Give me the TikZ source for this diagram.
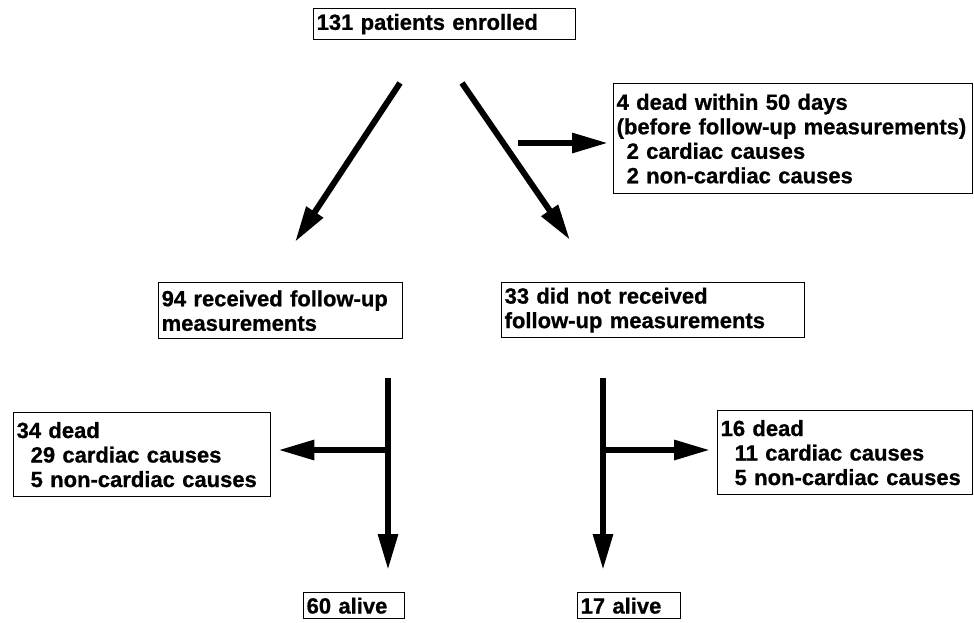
\documentclass[tikz,border=0pt]{standalone}
\usepackage{fontspec}
\setmainfont{Liberation Sans}[FakeBold=0.8]
\usepackage{tikz}
\usetikzlibrary{arrows.meta}

\begin{document}
\begin{tikzpicture}[x=1pt, y=-1pt,
    flowbox/.style={draw, line width=1.3pt, anchor=north west, align=left, inner xsep=3pt, inner ysep=0pt, font=\fontsize{22}{24.5}\selectfont\bfseries},
    bigarrow/.style={line width=6pt, -{Triangle[length=36pt, width=19pt]}}]
                    \useasboundingbox (0,0) rectangle (974,622);

                    \node[flowbox, text width=256pt, minimum height=31pt] (enrolled) at (313,8) {131 patients enrolled};
                    \node[flowbox, text width=353pt, minimum height=110pt] (early) at (613,83) {
                        4 dead within 50 days\\
                        (before follow-up measurements)\\
                        \hspace*{10pt}2 cardiac causes\\
                        \hspace*{10pt}2 non-cardiac causes
                    };
                    \node[flowbox, text width=238pt, minimum height=56pt] (received) at (158,282) {
                        94 received follow-up\\
                        measurements
                    };
                    \node[flowbox, text width=297pt, minimum height=55pt] (notreceived) at (501,282) {
                        33 did not received\\
                        follow-up measurements
                    };
                    \node[flowbox, text width=251pt, minimum height=84pt] (deadL) at (13,412) {
                        34 dead\\
                        \hspace*{14pt}29 cardiac causes\\
                        \hspace*{14pt}5 non-cardiac causes
                    };
                    \node[flowbox, text width=249pt, minimum height=84pt] (deadR) at (717,410) {
                        16 dead\\
                        \hspace*{14pt}11 cardiac causes\\
                        \hspace*{14pt}5 non-cardiac causes
                    };
                    \node[flowbox, text width=95pt, minimum height=26pt] (aliveL) at (303,592) {60 alive};
                    \node[flowbox, text width=97pt, minimum height=26pt] (aliveR) at (577,592) {17 alive};

                    \coordinate (forkL) at (400,83);
                    \coordinate (tipL) at (295,242);
                    \coordinate (forkR) at (462,83);
                    \coordinate (tipR) at (570,240);
                    \coordinate (side) at (518,143);
                    \coordinate (stemL) at (388,378);
                    \coordinate (branchL) at (388,450);
                    \coordinate (stemR) at (603,378);
                    \coordinate (branchR) at (603,450);

                    \draw[bigarrow] (forkL) -- (tipL);
                    \draw[bigarrow] (forkR) -- (tipR);
                    \draw[bigarrow, shorten >=5pt] (side) -- (side -| early.west);
                    \draw[bigarrow, shorten >=22pt] (stemL) -- (stemL |- aliveL.north);
                    \draw[bigarrow, shorten >=7pt] (branchL) -- (branchL -| deadL.east);
                    \draw[bigarrow, shorten >=22pt] (stemR) -- (stemR |- aliveR.north);
                    \draw[bigarrow, shorten >=7pt] (branchR) -- (branchR -| deadR.west);
                \end{tikzpicture}
\end{document}
